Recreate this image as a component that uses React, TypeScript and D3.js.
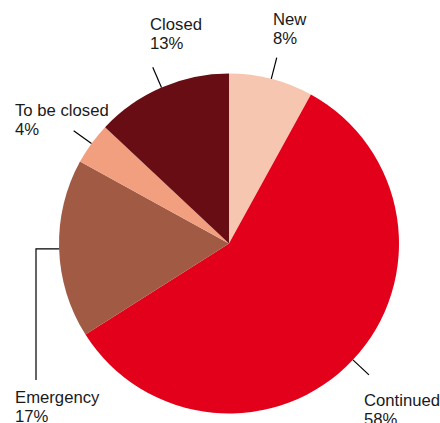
import React from "react";
import * as d3 from "d3";

const categories = ["New", "Continued", "Emergency", "To be closed", "Closed"];
const values = [8, 58, 17, 4, 13];
const colors = ["#f6c6b0", "#e2001a", "#a15b45", "#f29f7f", "#670d13"];

const W = 440;
const H = 423;
const cx = 229;
const cy = 243.5;
const R = 170;
const R2 = 192;

// label layout (x, baseline y of first line)
const labelPos: Record<string, { x: number; y: number }> = {
  New: { x: 273, y: 25 },
  Continued: { x: 364, y: 406 },
  Emergency: { x: 15, y: 403 },
  "To be closed": { x: 15, y: 116 },
  Closed: { x: 150, y: 30 },
};

export default function App() {
  const data = categories.map((c, i) => ({ name: c, value: values[i], color: colors[i] }));
  const pie = d3.pie<any>().sort(null).value((d) => d.value).startAngle(0).endAngle(2 * Math.PI);
  const arcs = pie(data);
  const arc = d3.arc<any>().innerRadius(0).outerRadius(R);
  const pt = (a: number, r: number) => [r * Math.sin(a), -r * Math.cos(a)];

  return (
    <svg
      width={W}
      height={H}
      style={{ position: "absolute", left: 0, top: 0, background: "#fff" }}
      fontFamily="'Liberation Sans', Arial, Helvetica, sans-serif"
    >
      <rect width={W} height={H} fill="#fff" />
      <g transform={`translate(${cx},${cy})`}>
        {arcs.map((a, i) => (
          <path key={i} d={arc(a) as string} fill={a.data.color} />
        ))}
        {arcs.map((a, i) => {
          const mid = (a.startAngle + a.endAngle) / 2;
          const [x1, y1] = pt(mid, R);
          if (a.data.name === "Emergency") {
            const lp = labelPos[a.data.name];
            const ex = 36 - cx;
            const ey = lp.y - 23 - cy;
            return (
              <polyline
                key={"l" + i}
                points={`${x1},${y1} ${ex},${y1} ${ex},${ey}`}
                fill="none"
                stroke="#000"
                strokeWidth={1.2}
              />
            );
          }
          const [x2, y2] = pt(mid, R2);
          return <line key={"l" + i} x1={x1} y1={y1} x2={x2} y2={y2} stroke="#000" strokeWidth={1.2} />;
        })}
      </g>
      {arcs.map((a, i) => {
        const lp = labelPos[a.data.name];
        return (
          <text key={"t" + i} x={lp.x} y={lp.y} fontSize={16.7} fill="#1a1a1a">
            <tspan x={lp.x}>{a.data.name}</tspan>
            <tspan x={lp.x} dy={19}>{a.data.value}%</tspan>
          </text>
        );
      })}
    </svg>
  );
}
